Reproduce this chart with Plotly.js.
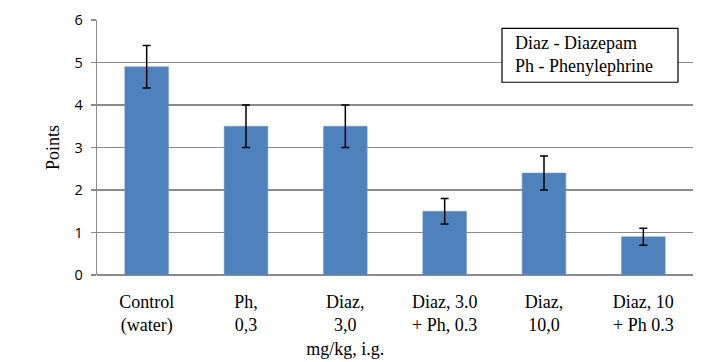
<!DOCTYPE html>
<html><head><meta charset="utf-8">
<script src="https://cdn.plot.ly/plotly-3.0.1.min.js"></script>
<style>html,body{margin:0;padding:0;background:#fff;}#chart{width:703px;height:362px;}</style>
</head><body><div id="chart"></div>
<script>
const categories = ["Control<br>(water)", "Ph,<br>0,3", "Diaz,<br>3,0<br>mg/kg, i.g.", "Diaz, 3.0<br>+ Ph, 0.3", "Diaz,<br>10,0", "Diaz, 10<br>+ Ph 0.3"];
const values = [4.9, 3.5, 3.5, 1.5, 2.4, 0.9];
const errors = [0.5, 0.5, 0.5, 0.3, 0.4, 0.2];
const yTicks = [0, 1, 2, 3, 4, 5, 6];
const legendText = "Diaz - Diazepam<br>Ph - Phenylephrine";

const SERIF = 'Liberation Serif';
const trace = {
  type: 'bar', x: categories, y: values,
  marker: {color: '#4F81BD', line: {color: '#6a96cc', width: 0.5}},
  error_y: {type: 'data', array: errors, visible: true, color: '#000', thickness: 1.5, width: 4},
  hoverinfo: 'none'
};
const layout = {
  width: 703, height: 362,
  margin: {l: 97, r: 10, t: 19.5, b: 86.5},
  paper_bgcolor: '#fff', plot_bgcolor: '#fff',
  showlegend: false, bargap: 0.56,
  font: {family: SERIF, color: '#000', size: 18},
  xaxis: {
    type: 'category', showgrid: false, zeroline: false, showline: false, ticks: '',
    tickfont: {family: SERIF, size: 18, color: '#000'},
    ticklabelstandoff: 14, automargin: false
  },
  yaxis: {
    range: [0, 6], tickvals: yTicks, ticktext: yTicks.map(String),
    showgrid: true, gridcolor: '#8a8a8a', gridwidth: 1.2,
    zeroline: true, zerolinecolor: '#8a8a8a', zerolinewidth: 2,
    showline: true, linecolor: '#8a8a8a', linewidth: 1.2,
    ticks: 'outside', ticklen: 5, tickcolor: '#8a8a8a', tickwidth: 1.2,
    tickfont: {family: 'Open Sans', size: 14.5, color: '#000'},
    ticklabelstandoff: 5, automargin: false,
    title: {text: 'Points', font: {family: SERIF, size: 18, color: '#000'}, standoff: 10}
  },
  shapes: [{
    type: 'rect', xref: 'paper', yref: 'paper',
    x0: 0.6795, x1: 0.9748, y0: 0.7559, y1: 0.9668,
    line: {color: '#000', width: 1.2}, fillcolor: '#fff', layer: 'above'
  }],
  annotations: [{
    xref: 'paper', yref: 'paper', x: 0.698, y: 0.866, xanchor: 'left', yanchor: 'middle',
    align: 'left', showarrow: false, text: legendText,
    font: {family: SERIF, size: 18, color: '#000'}
  }]
};
Plotly.newPlot('chart', [trace], layout, {staticPlot: true, displayModeBar: false});
</script></body></html>
